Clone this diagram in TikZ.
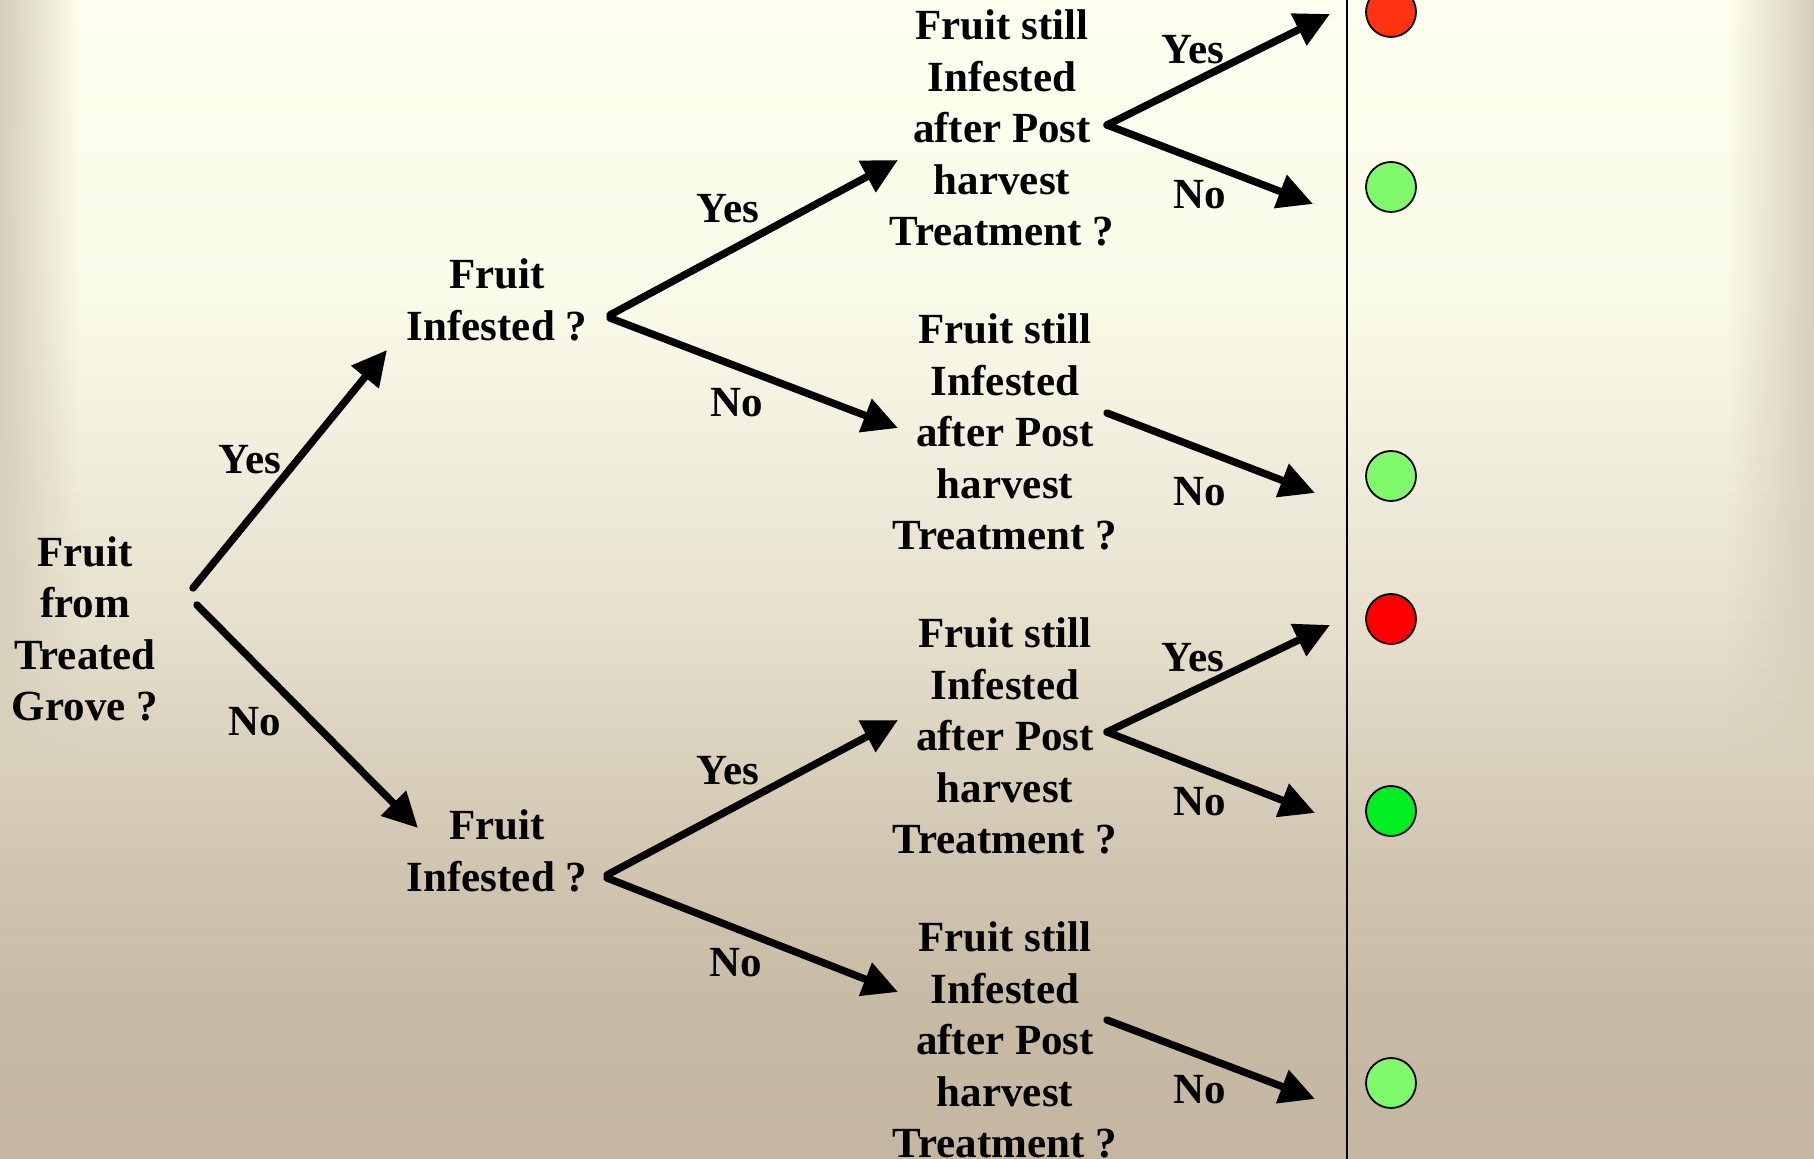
\documentclass[tikz,border=0pt]{standalone}
\usepackage{fontspec}
\setmainfont{Liberation Serif}
\usetikzlibrary{arrows.meta,fadings}
\definecolor{bgtop}{RGB}{254,255,238}
\definecolor{bglight}{RGB}{250,250,233}
\definecolor{bgupper}{RGB}{238,234,217}
\definecolor{bgmid}{RGB}{233,228,209}
\definecolor{bglower}{RGB}{210,199,179}
\definecolor{bgdeep}{RGB}{200,187,165}
\definecolor{bgbot}{RGB}{196,182,160}
\definecolor{edgetan}{RGB}{214,205,187}
\definecolor{edgeend}{RGB}{217,208,188}
\definecolor{topred}{RGB}{255,51,17}
\definecolor{midred}{RGB}{255,0,0}
\definecolor{softgreen}{RGB}{128,250,108}
\definecolor{fullgreen}{RGB}{0,238,34}
\pgfdeclareverticalshading{slidebg}{100bp}{color(0bp)=(bgbot); color(25bp)=(bgbot); color(31.9bp)=(bgdeep); color(38.5bp)=(bglower); color(50bp)=(bgmid); color(53.5bp)=(bgupper); color(62bp)=(bglight); color(75bp)=(bgtop); color(100bp)=(bgtop)}
\tikzfading[name=fadeleft, left color=transparent!0, right color=transparent!100]
\tikzfading[name=faderight, left color=transparent!100, right color=transparent!0]
\begin{document}
\begin{tikzpicture}[x=0.5pt,y=-0.5pt,
	question/.style={font=\bfseries\fontsize{21.5}{25.7}\selectfont, align=center, inner sep=0pt},
	answer/.style={font=\bfseries\fontsize{21.5}{25.7}\selectfont, inner sep=0pt},
	branch/.style={line width=3.7pt, line cap=round, -{Triangle[length=17.5pt,width=17pt]}},
	dot/.style={circle, draw=black, line width=0.9pt, minimum size=25pt, inner sep=0pt}]
	\useasboundingbox (0,0) rectangle (1814,1159);
	\shade[shading=slidebg] (0,0) rectangle (1814,1159);
	\shade[top color=edgetan, bottom color=edgeend, path fading=fadeleft] (0,0) rectangle (80,770);
	\shade[top color=edgetan, bottom color=edgeend, path fading=faderight] (1727,0) rectangle (1814,770);
	\draw[line width=1pt] (1347,0) -- (1347,1159);

	\node[question] (grove) at (85,629) {Fruit\\from\\Treated\\Grove ?};
	\node[question] (infyes) at (497,300) {Fruit\\Infested ?};
	\node[question] (infno) at (497,851) {Fruit\\Infested ?};
	\node[question] (post1) at (1002,128) {Fruit still\\Infested\\after Post\\harvest\\Treatment ?};
	\node[question] (post2) at (1005,432) {Fruit still\\Infested\\after Post\\harvest\\Treatment ?};
	\node[question] (post3) at (1005,736) {Fruit still\\Infested\\after Post\\harvest\\Treatment ?};
	\node[question] (post4) at (1005,1040) {Fruit still\\Infested\\after Post\\harvest\\Treatment ?};

	\node[dot, fill=topred] (dot1) at (1391,12) {};
	\node[dot, fill=softgreen] (dot2) at (1391,187) {};
	\node[dot, fill=softgreen] (dot3) at (1391,476) {};
	\node[dot, fill=midred] (dot4) at (1391,619) {};
	\node[dot, fill=fullgreen] (dot5) at (1391,811) {};
	\node[dot, fill=softgreen] (dot6) at (1391,1083) {};

	\coordinate (grove-y) at (193,588);
	\coordinate (grove-n) at (197,605);
	\coordinate (infyes-in) at (387,350);
	\coordinate (infno-in) at (418,828);
	\coordinate (infyes-y) at (610,315);
	\coordinate (infyes-n) at (610,318);
	\coordinate (infno-y) at (607,875);
	\coordinate (infno-n) at (607,878);
	\coordinate (post1-in) at (898,160);
	\coordinate (post2-in) at (898,428);
	\coordinate (post3-in) at (898,720);
	\coordinate (post4-in) at (898,992);
	\coordinate (post1-out) at (1107,125);
	\coordinate (post2-out) at (1107,413);
	\coordinate (post3-out) at (1107,732);
	\coordinate (post4-out) at (1107,1020);
	\coordinate (dot1-in) at (1330,14);
	\coordinate (dot2-in) at (1313,204);
	\coordinate (dot3-in) at (1315,493);
	\coordinate (dot4-in) at (1330,625);
	\coordinate (dot5-in) at (1315,813);
	\coordinate (dot6-in) at (1315,1099);

	\draw[branch] (grove-y) -- (infyes-in);
	\draw[branch] (grove-n) -- (infno-in);
	\draw[branch] (infyes-y) -- (post1-in);
	\draw[branch] (infyes-n) -- (post2-in);
	\draw[branch] (infno-y) -- (post3-in);
	\draw[branch] (infno-n) -- (post4-in);
	\draw[branch] (post1-out) -- (dot1-in);
	\draw[branch] (post1-out) -- (dot2-in);
	\draw[branch] (post2-out) -- (dot3-in);
	\draw[branch] (post3-out) -- (dot4-in);
	\draw[branch] (post3-out) -- (dot5-in);
	\draw[branch] (post4-out) -- (dot6-in);

	\node[answer] (yes1) at (250,460) {Yes};
	\node[answer] (no1) at (255,722) {No};
	\node[answer] (yes2) at (728,209) {Yes};
	\node[answer] (no2) at (737,403) {No};
	\node[answer] (yes3) at (728,771) {Yes};
	\node[answer] (no3) at (736,963) {No};
	\node[answer] (yes4) at (1193,50) {Yes};
	\node[answer] (no4) at (1200,195) {No};
	\node[answer] (no5) at (1200,492) {No};
	\node[answer] (yes6) at (1193,658) {Yes};
	\node[answer] (no6) at (1200,802) {No};
	\node[answer] (no7) at (1200,1090) {No};
\end{tikzpicture}
\end{document}
